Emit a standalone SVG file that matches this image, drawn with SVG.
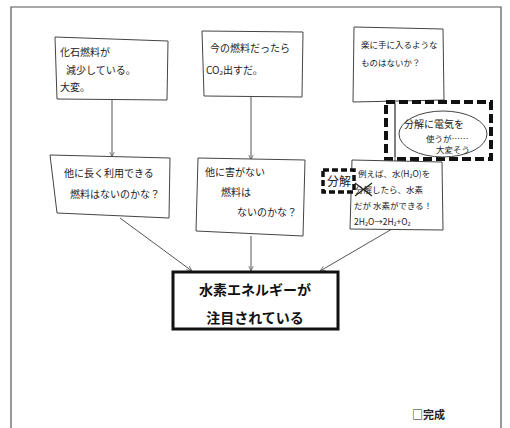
<svg xmlns="http://www.w3.org/2000/svg" width="510" height="428" viewBox="0 0 510 428">
<style>
.hand{fill:#fff;stroke:#444;stroke-width:1}
.ht{font-family:"Noto Sans CJK JP","Noto Sans",sans-serif;fill:#222;font-size:10px}
.sm{font-size:9px}
.xs{font-size:8.5px}
.dash{fill:none;stroke:#111;stroke-width:4;stroke-dasharray:9,4}
.conn{fill:none;stroke:#555;stroke-width:1}
.bt{font-family:"Noto Sans CJK JP","Noto Sans",sans-serif;font-weight:bold;font-size:14px;fill:#111;text-anchor:middle}
</style>
<defs>
<marker id="ah" viewBox="0 0 10 10" refX="9" refY="5" markerWidth="6" markerHeight="6" orient="auto"><path d="M0,1 L9,5 L0,9" fill="none" stroke="#555" stroke-width="1.2"/></marker>
</defs>
<rect width="510" height="428" fill="#fff"/>
<path d="M11,428 V7 H501 V428" fill="none" stroke="#555" stroke-width="1.2"/>
<g id="connectors">
<line class="conn" x1="112" y1="100" x2="112" y2="157" marker-end="url(#ah)"/>
<line class="conn" x1="251" y1="97" x2="251" y2="160" marker-end="url(#ah)"/>
<line class="conn" x1="395" y1="102" x2="395" y2="162"/>
<line class="conn" x1="120" y1="218" x2="192" y2="271" marker-end="url(#ah)"/>
<line class="conn" x1="251" y1="236" x2="251" y2="271" marker-end="url(#ah)"/>
<line class="conn" x1="392" y1="229" x2="320" y2="271" marker-end="url(#ah)"/>
</g>
<g id="n1">
<polygon class="hand" points="55,37 168,41 167,100 57,99"/>
<text class="ht" x="60" y="56">化石燃料が</text>
<text class="ht" x="66" y="74">減少している。</text>
<text class="ht" x="60" y="91">大変。</text>
</g>
<g id="n2">
<polygon class="hand" points="202,31 303,32 302,97 204,96"/>
<text class="ht" x="210" y="52">今の燃料だったら</text>
<text class="ht" x="206" y="74">CO₂出すだ。</text>
</g>
<g id="n3">
<polygon class="hand" points="354,27 443,29 444,100 353,102"/>
<text class="ht xs" x="361" y="48">楽に手に入るような</text>
<text class="ht xs" x="361" y="66">ものはないか？</text>
</g>
<g id="n4">
<rect class="dash" x="386" y="102" width="105" height="57" fill="#fff"/>
<ellipse cx="443" cy="134" rx="44" ry="23" fill="#fff" stroke="#444" stroke-width="1"/>
<line class="conn" x1="395" y1="104" x2="395" y2="157"/>
<text class="ht" x="404" y="128">分解に電気を</text>
<text class="ht xs" x="426" y="142">使うが……</text>
<text class="ht xs" x="436" y="153">大変そう</text>
</g>
<g id="n5">
<polygon class="hand" points="50,155 170,158 169,218 57,213"/>
<text class="ht" x="64" y="177">他に長く利用できる</text>
<text class="ht" x="70" y="198">燃料はないのかな？</text>
</g>
<g id="n6">
<polygon class="hand" points="198,158 305,160 303,236 196,231"/>
<text class="ht" x="205" y="176">他に害がない</text>
<text class="ht" x="221" y="196">燃料は</text>
<text class="ht" x="237" y="216">ないのかな？</text>
</g>
<g id="n7">
<polygon class="hand" points="352,160 442,162 443,230 350,229"/>
<text class="ht xs" x="358" y="177">例えば、水(H₂O)を</text>
<text class="ht xs" x="355" y="193">分解したら、水素</text>
<line x1="355" y1="183" x2="372" y2="196" stroke="#222" stroke-width="1.2"/>
<line x1="355" y1="196" x2="372" y2="183" stroke="#222" stroke-width="1.2"/>
<text class="ht xs" x="354" y="209">だが 水素ができる！</text>
<text class="ht xs" x="354" y="225">2H₂O→2H₂+O₂</text>
</g>
<g id="n8">
<rect x="323" y="170" width="31" height="22" fill="#fff" stroke="#111" stroke-width="3.5" stroke-dasharray="6,3"/>
<text class="ht" x="327" y="186" style="font-size:12px">分解</text>
</g>
<g id="main">
<rect x="173" y="272" width="165" height="57" fill="#fff" stroke="#111" stroke-width="3"/>
<text class="bt" x="255" y="295">水素エネルギーが</text>
<text class="bt" x="255" y="323">注目されている</text>
</g>
<text x="412" y="419" style="font-family:'Noto Sans CJK JP',sans-serif;font-size:11px;font-weight:bold;fill:#222">□完成</text>
</svg>
